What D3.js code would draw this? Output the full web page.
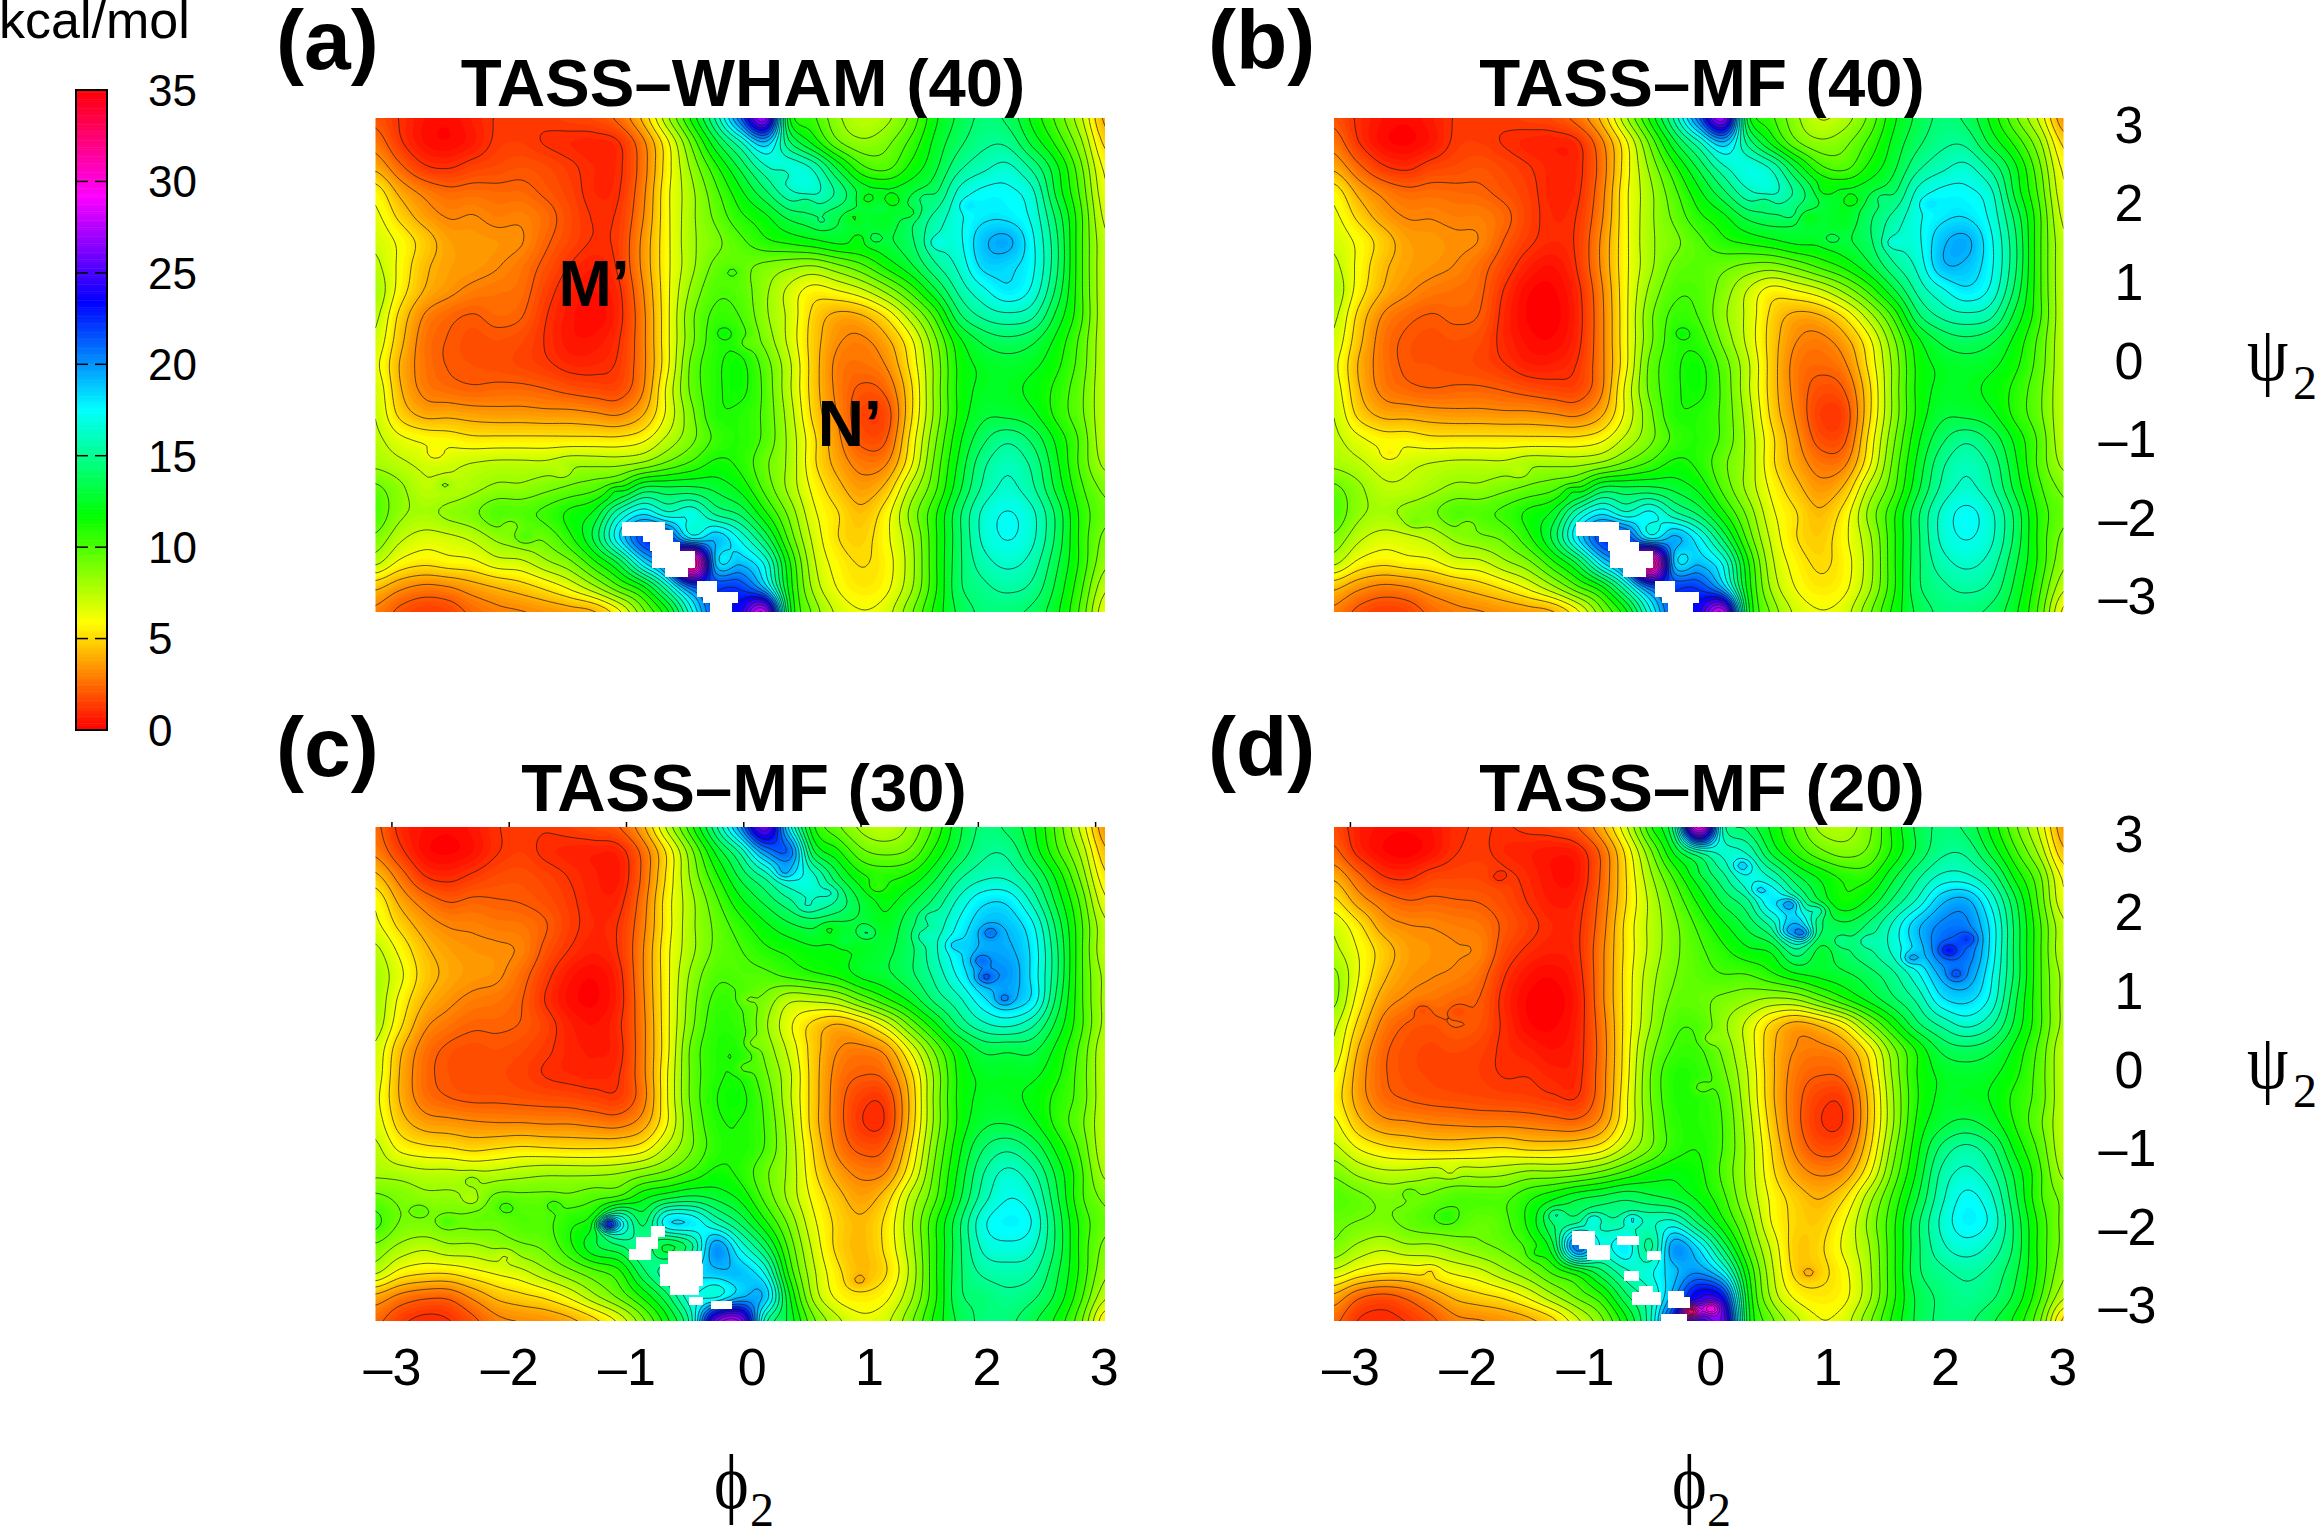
<!DOCTYPE html>
<html>
<head>
<meta charset="utf-8">
<script src="https://cdn.jsdelivr.net/npm/d3@7"></script>
<style>
  html, body { margin: 0; padding: 0; background: #fff; }
  svg { display: block; }
  text { font-family: "Liberation Sans", Arial, sans-serif; fill: #000; }
</style>
</head>
<body>
<div id="chart-area"></div>
<script>
// free energy, rows run from psi=3.14 down to psi=-3.14, 31 columns left to right
const energyA = [
  [2,1.2,.5,.3,.8,1.3,1.3,1.4,1.6,1.8,2.5,4.5,8,11.5,15.5,21,27,12.5,10.5,8.5,7.5,8,9.5,12,13.5,14.5,14,12,10,7.5,4],
  [2.8,1.4,.5,.3,.7,1.4,1.5,1.2,1,.9,1.2,3,6,9.5,13,16,19,14.5,12,9.5,8.5,9,10.5,12.5,14,15,15,13,11,8.5,5],
  [4,2.5,1.4,1.2,1.6,1.8,2,1.8,1.4,1,1.1,2.8,5.8,8.5,11,13.5,16,17,16,13,10.5,10,11.5,13,15,16,16.5,15,12.5,9.5,6],
  [5.8,4,3,2.5,2.6,2.5,2.5,2.1,1.6,1,1.2,3,6,8,10,12,14,16,16.5,15,13,12.5,13,14,16.5,17.5,17.5,16.5,13,10,6.5],
  [6.5,5,3.8,3.2,3.3,3,3.1,2.6,1.8,1.2,1.4,3.2,6,8,9.5,11,12,13.5,14,13.5,13,12.5,14,15.5,17,18,18,17,14,10.5,7],
  [7,6,4.8,3.8,3.6,3.5,3.3,2.4,1.7,1.2,1.5,3.5,6,8,9,10,11,11.5,12,12.5,12.5,13,14,16,17,19,19.5,17.5,14.5,10.5,7.5],
  [7.5,6,4.5,3.8,3.6,3.3,2.8,2,1.2,.8,1.4,3.5,6,8,9.5,9.5,9,8.5,8.2,9,10,11.5,13,15,16.5,18.5,18.5,17.5,14.5,10.5,7.5],
  [8,5.8,4.2,3.5,3,2.8,2.6,1.6,.8,.5,1.1,3.2,6,8.5,10,9.8,8.5,7,5.8,6.2,7,8.5,10.5,13,15.5,17,18,17,14,10.5,7.5],
  [7.5,5,3.2,2.5,2.2,2.5,2.3,1.3,.6,.3,1,3,6,9,10.5,10.2,8.5,7,5,4,4.2,5.5,7.8,10.5,14,15.5,16,15.5,13,10.5,7.5],
  [7,4.6,2.8,2.2,1.9,2,1.8,1.2,.6,.6,1.2,3,6,9,10.8,10.8,9,7,4.8,3.4,3.1,4,6,9,12,13.5,14,13.5,12,10,7.5],
  [6.5,4.2,2.8,2.2,2,1.9,1.7,1.4,1,1,1.4,3,6,9.5,11,11.5,9.8,7.5,4.8,3,2.7,3.3,5.5,8.5,11.5,12.5,12.8,12.5,11.5,9.8,7.5],
  [7,4.4,3,2.6,2.4,2.5,2.5,2.3,2,1.8,1.8,3.2,6.5,9.5,11,11.5,10,7.5,4.8,3,2.1,2.5,5,8.5,11.5,12.5,12.5,12,11,9.5,7.5],
  [7.2,5,4,4,3.8,3.7,3.7,3.6,3.6,3.4,3.2,4.2,6.5,9,11,11,10,7.8,5,3.2,1.7,1.8,5,8.5,11.5,13,13,12.5,11,9.5,7.5],
  [7.5,6.5,6,5.8,5.5,5.5,5.5,5.5,5.5,5.5,5.5,6,7.5,9,10.5,11,10,8,5.5,3.5,2,2.2,5.5,9,12,14,15,14,12,10,7.5],
  [8,7.5,7,7,7.3,7.5,7.5,7.5,8,8,8,8.5,9.5,10.5,11.5,11,9.5,8,5.5,3.9,2.9,3.2,6,9.5,12.5,15,16,15,12.5,10,8],
  [9.5,8.5,7.5,7.5,8,8.5,8.5,9,9.5,10,11,13.5,13.5,13.5,13,12,10,8,6,4.6,3.7,4.6,7.5,10,13,15.5,16.5,15.5,13,10.5,9],
  [10,8.5,8,8.5,9,10,10,10.5,11.5,12.5,16,18,16.5,17,15,14,11.5,9,6.5,5.3,4.5,5.8,8.5,11,14,16.5,17.3,16.5,14,11,9.5],
  [9,7.5,6.8,7,7.5,8.5,9,9.5,11,13.5,18,22,22,18,19,17,14,10,7,5.3,4.9,6,8,11,14,16.5,17.3,16.5,14,11,9],
  [7.5,6,5.5,5.8,6,6.8,7,8,9,11,13.5,18,22,33,19,19,17,11.5,7.5,5.8,5.2,5.8,7.8,11,14,15.8,16.5,15.8,13.5,11,8.5],
  [4.5,3.5,3,3.2,3.8,4.3,4.8,5.5,6.5,8,10,12,16,21,22,22,19,12,8,6.2,5.5,6,8,11,14,15,15.5,15,13,10.5,7.5],
  [3,2,1.5,1.7,2.5,3,3.2,3.5,3.8,4.2,6,9,12,17,22,24,28,13,9,7,6.3,6.8,9,11.5,13.5,14.5,14.5,14,12.5,10,6.5]
]

const energyB = [
  [2,1.1,.5,.3,.7,1.3,1.3,1.4,1.6,1.8,2.6,4.5,8,11.5,15.5,21,27,13,10.5,8.5,7.2,7.8,9.5,12,13.5,14.5,14,12,9.5,7,3.5],
  [2.8,1.3,.4,.2,.6,1.4,1.5,1.2,.9,.8,1.1,3,6,9.5,13,16,19,15,12,9.5,8.5,9,10.5,12.5,14,15,15,13,11,8.5,5],
  [4,2.5,1.4,1.1,1.6,1.8,2,1.7,1.3,.9,1,2.7,5.8,8.5,11,13.5,16,17,16,13,10.5,10,11.5,13,15,16,16.5,15,12.5,9.5,6],
  [5.8,4,3,2.5,2.6,2.5,2.4,2,1.5,.9,1.1,2.9,6,8,10,12,14,16,16.5,15,13,12.5,13,14,16.5,17.5,17.5,16.5,13,10,6.5],
  [6.5,5,3.8,3.2,3.2,3,3,2.5,1.6,1,1.3,3.1,6,8,9.5,11,12,13.5,14,13.5,13,12.5,14,15.5,17,18,18.2,17,14,10.5,7],
  [7,6,4.8,3.8,3.6,3.4,3.2,2.2,1.4,1,1.4,3.4,6,8,9,10,11,11.5,12,12.5,12.5,13,14,16,17,19,19.5,17.5,14.5,10.5,7.5],
  [7.5,6,4.5,3.8,3.5,3.2,2.6,1.7,.8,.5,1.3,3.4,6,8,9.5,9.8,9.5,9,8.8,9.5,10.5,11.5,13,15,16.5,19,19,17.5,14.5,10.5,7.5],
  [8,5.8,4.2,3.4,2.9,2.7,2.4,1.2,.3,.2,1,3.1,6,8.5,10,10,8.8,7.2,5.8,6.2,7,8.5,10.5,13,15.5,17,18,17,14,10.5,7.5],
  [7.5,5,3.2,2.5,2.2,2.4,2.2,1,.2,.1,.9,3,6,9,10.5,10.2,8.5,7,5,4,4.2,5.5,7.8,10.5,14,15.5,16,15.5,13,10.5,7.5],
  [7,4.6,2.8,2.1,1.9,2,1.8,1,.4,.3,1,3,6,9,10.8,10.8,9,7,4.8,3.3,3,3.9,6,9,12,13.5,14,13.5,12,10,7.5],
  [6.5,4.2,2.8,2.1,2,1.9,1.7,1.3,.8,.8,1.3,3,6,9.5,11,11.5,9.8,7.5,4.8,2.9,2.5,3.1,5.5,8.5,11.5,12.5,12.8,12.5,11.5,9.8,7.5],
  [6.8,4.4,3,2.5,2.3,2.4,2.4,2.2,1.9,1.7,1.7,3.1,6.5,9.5,11,11.5,10,7.5,4.8,2.9,1.9,2.3,5,8.5,11.5,12.5,12.5,12,11,9.5,7.5],
  [7.2,5,4,3.9,3.7,3.6,3.6,3.5,3.5,3.3,3.1,4.1,6.5,9,11,11,10,7.8,5,3.1,1.5,1.7,5,8.5,11.5,13,13,12.5,11,9.5,7.5],
  [7.5,6.5,5.8,5.8,5.5,5.5,5.5,5.5,5.5,5.5,5.5,6,7.5,9,10.5,11,10,8,5.5,3.5,1.9,2.1,5.5,9,12,14,15,14,12,10,7.5],
  [8,7.5,6.8,7,7.3,7.5,7.5,7.5,8,8,8,8.5,9.5,10.5,11.5,11,9.5,8,5.5,3.9,2.8,3.1,6,9.5,12.5,15,16,15,12.5,10,8],
  [9.5,8.5,7.5,7.5,8,8.5,8.5,9,9.5,10,11,13.5,13.5,13.5,13,12,10,8,6,4.6,3.6,4.5,7.5,10,13,15.5,16.5,15.5,13,10.5,9],
  [10,8.5,8,8.5,9,10,10,10.5,11.5,12.5,16,18,16.5,17.5,15.5,14,11.5,9,6.5,5.3,4.4,5.7,8.5,11,14,16.5,17.5,16.5,14,11,9.5],
  [9,7.5,6.8,7,7.5,8.5,9,9.5,11,13.5,18,22,22,18,19.5,17.5,14,10,7,5.3,4.8,6,8,11,14,16.5,17.3,16.5,14,11,9],
  [7.5,6,5.5,5.8,6,6.8,7,8,9,11,13.5,18,22,33,19,19,17,11.5,7.5,5.8,5.1,5.8,7.8,11,14,15.8,16.5,15.8,13.5,11,8.5],
  [4.5,3.5,3,3.2,3.8,4.3,4.8,5.5,6.5,8,10,12,16,21,22,22,19,12,8,6.2,5.5,6,8,11,14,15,15.5,15,13,10.5,7.5],
  [3,2,1.5,1.7,2.5,3,3.2,3.5,3.8,4.2,6,9,12,17,22,24,28,13,9,7,6.3,6.8,9,11.5,13.5,14.5,14.5,14,12.5,10,6]
]

const energyC = [
  [2.5,1,.5,.3,.6,1.2,1.4,1.3,1.5,1.8,2.2,4,7.5,11,15,20,26,18,11.5,9.5,8,7.5,8.5,10.5,13,14.5,14,12.5,10,7,3.5],
  [3,1.5,.4,.2,.5,1.2,1.5,1.1,.9,.8,.9,2.6,5.5,9,12.5,15.5,20,21,13.5,11.5,9.5,9,9.5,11.5,13.5,15,15,13,10.5,8,4.5],
  [4.5,2.8,1.3,1,1.4,1.8,1.9,1.6,1.2,.8,.7,2.5,5.5,8.5,11,13.5,15.5,17.5,16.5,13.5,11.5,11,11.5,13,15,16,16,14.5,12,9,5.5],
  [6,4,2.8,2.2,2.4,2.3,2.2,1.9,1.4,.9,1,2.8,5.8,8,10,12,13.5,15,16,15,13,12,13,14.5,16.5,18,18,16,13,10,6.5],
  [6.5,5,3.8,3.2,3.1,2.9,2.8,2.3,1.5,1,1.3,3,5.8,8,9.5,10.8,12,13,13.5,13,13,12.5,14,15.5,17.5,19,19,17.5,14,10.5,7.5],
  [7.5,6,4.5,3.8,3.5,3.4,3.1,2,1.2,.8,1.3,3.2,6,8,9.5,10.2,11,11.5,12,12,12.5,13,14,16,18,19.5,19.5,18,14.5,10.5,7.5],
  [8,6.5,4.8,4,3.6,3.4,2.6,1.5,.6,.3,1,3.2,6,8.5,10,10,10,10.5,11,11.5,12.5,13,14,15.5,17.5,19.5,20,18,14.5,10.5,8],
  [8,6,4.3,3.5,3,2.8,2.3,1.2,.4,.2,.9,3.1,6,8.8,10.5,10.3,9,7.5,7.5,8,9.5,11,12.5,14.5,16,18,19,18,14,10.5,8],
  [7.8,5.5,3.5,2.8,2.4,2.4,2.2,1.6,.8,.5,1.1,3,6,9,10.8,10.5,8.5,6.5,5,4.2,5,6.8,9.5,12,14.5,16,16.5,15.5,13,10.5,8],
  [7,4.5,2.8,2.1,1.9,2,1.8,1.4,.9,.7,1,3,6,9.5,11,11,9,7,4.8,3.3,3,3.7,6.5,9.5,12,13.5,13.5,13.5,12,10,7.5],
  [6.8,4.2,2.6,2,1.8,1.8,1.6,1.2,1,.9,1.2,3,6.2,9.5,11,11.2,9.5,7.5,4.8,2.9,2.3,2.6,5,8.5,11.5,12.5,12.5,12.5,11.5,9.8,7.5],
  [6.5,4.2,2.8,2.3,2.1,2.1,2,1.9,1.8,1.6,1.5,2.9,6.2,9.5,11.2,11.5,10,7.5,4.8,2.7,1.5,1.6,4.5,8.5,11.5,12.5,12.5,12,11,9.8,7.5],
  [6.8,4.8,3.8,3.6,3.4,3.3,3.3,3.2,3.2,3,2.9,3.8,6.2,9.2,11,11.2,10.2,7.8,4.8,2.7,1.3,1.4,4.6,8.5,11.5,13,13.2,12.5,11,9.5,7.5],
  [7.5,6,5.5,5.3,5,5.2,5.4,5.3,5.2,5.2,5.3,5.8,7.5,9.2,10.8,11.2,10.2,8,5.2,3,2,2.3,5.2,9,12,14.2,15,14,12,10,7.5],
  [8,7.8,7.5,7.5,7.3,7.5,7.8,8,8,8,8.2,8.8,9.5,10.5,11.5,11,9.5,8,5.5,3.8,3,3.3,6,9.5,12.5,15.2,16.5,15.5,13,10.5,8],
  [9.5,9,8.5,8.5,8.5,9.5,9.5,9.5,9.5,10,10.5,12,13,13.5,13,12,10,8,6,4.6,3.8,4.8,7.5,10,13,15.8,17.2,16.5,13.5,10.5,9],
  [10.5,9.2,9,9.2,9.5,9.5,10,10,11,12,17,14,18,18,16,14,11.5,9,6.5,5,4.4,5.5,8,11,14,17,17.8,17.2,14,11,9.5],
  [9,8,7.5,8,8,8.5,9,9.5,11,13,14,15,13,15,20,17,14,10,7,5,4.4,5.5,7.8,11,14,16.5,17,16.5,14,11,9],
  [7.5,6,5.5,5.5,6,6.5,7,8,9,10,11,14,16,18,19,19,17,11,7.5,5.5,4.5,5.2,7.5,11,14,15.5,15.8,15.5,13.5,11,8.5],
  [4,3,2.5,2.5,3.5,4.5,5,5.5,6.5,8,9.5,11.5,14,17,17,19,19,12.5,8,6,5.5,6,8,11,14,14.5,15,14.5,13,10.5,7.5],
  [2.5,1.5,1,1.2,2,3,3.3,3.5,4,5,6.5,9,12,16,26,27,16,13,9.5,7.5,6.5,7,9,11.5,13.5,14.5,14.5,13.5,12,9.5,5.5]
]

const energyD = [
  [1.8,.8,.4,.3,.5,1.1,1.3,1.2,1.4,1.6,2.2,4,7,11,15,30,16,14,12,10,8,7.8,9,11.5,13.5,14.5,14,12,9.5,7,3.5],
  [2.5,1,.3,.1,.5,1.2,1.4,1,.8,.6,.8,2.5,5.5,9,12.5,15.5,16.5,16,13,11,9.5,8.8,9.5,11.5,13.5,15,15,13,10.5,8,4.5],
  [4,2.5,1.3,1.1,1.6,1.7,1.7,1.5,1,.5,.6,2.4,5.2,8,10.5,13,15,17,16,13.5,12,11,11,13,15,16.5,16.5,15,12,9.5,6],
  [5.5,3.8,2.8,2.3,2.4,2.3,2.2,1.8,1.2,.7,.9,2.6,5.2,7.5,9.5,11.5,13.5,15,18,16,13,11.5,12.5,14.5,16.5,19,19.5,17,13.5,10,6.5],
  [7,5.5,3.8,3.3,3.2,3,2.8,2.1,1.5,1,1.1,2.8,5.5,7.5,9,10.5,12,13.5,15.5,19,14.5,13.5,14.5,16.5,19,20.5,20.5,18,14,10.5,7.5],
  [7.5,6.2,4.8,3.8,3.5,3.3,3.1,1.8,1.1,.8,1.1,3,5.5,7.5,9,10,11,12,12.5,15,13,14,15,16.5,18.5,21,21,18,14,10.5,7.5],
  [8.5,6.3,4.5,3.6,3.3,3.1,2.6,1.3,.5,.3,.9,3,5.6,7.8,9.2,9.8,10.2,10.2,11,12,12.5,13,13.8,15,17,19.5,20,17.5,14,10.5,8],
  [8.5,5.8,3.8,3.1,2.8,2.5,2.2,1,.2,.1,.7,3,5.6,8,9.5,9.5,9,8.5,8,8.2,9.5,11,12.5,14,15.5,18,18.5,17,13.5,10.5,8],
  [7.5,5,3,2.2,2,2.3,2,1.1,.3,.2,.8,2.8,5.6,8.2,10,10,8.5,7,5,3.9,4.5,6,8.8,11.5,14,15.5,16.5,15.5,13,10.5,8],
  [7,4.2,2.5,1.9,1.7,1.8,1.6,1.1,.8,.5,.9,2.7,5.7,8.8,10.4,10.4,9,7,4.5,3.2,3,3.6,5.8,9,11.5,13.5,14,13.5,12,10,7.5],
  [6.2,3.8,2.4,1.9,1.7,1.6,1.5,1.2,1.2,.9,1,2.8,5.8,9.2,11,10.8,9.5,7.3,4.5,2.8,2.3,2.6,5,8.5,11.3,12.5,12.8,12.5,11.5,9.8,7.5],
  [5.8,3.8,2.6,2.2,2,1.9,1.8,1.7,1.6,1.4,1.3,2.9,6,9.2,11,11,10,7.5,4.5,2.6,1.5,1.6,4.5,8.2,11.2,12.5,12.5,12.2,11,9.8,7.5],
  [6.5,4.6,3.6,3.4,3.2,3.1,3,3,2.9,2.7,2.6,3.6,6.2,9,10.8,11,10.2,7.8,4.8,2.6,1.3,1.4,4.5,8.2,11.5,13,13.5,12.8,11.2,9.5,7.5],
  [7.5,6.2,5.5,5.2,5,5,5.2,5.3,5,5,5.2,5.8,7.5,9.2,10.8,11.2,10.2,8,5.2,3,1.9,2.3,5,8.8,12,14.5,15.5,14.5,12,10,7.5],
  [9,8,7.5,7.5,7.8,8,7.8,8,8.5,8.5,8.8,9.5,10.5,11.5,12,11.5,10,8,5.5,3.8,3.1,3.6,6,9.5,12.5,15.5,16.5,15.5,13,10.5,8],
  [10,9.5,9,9,9.5,10,10,10,11,12,13,13.5,14,13.5,13,12,10.5,8.2,6,4.8,4.2,5.2,7.8,10.5,13.2,16,17.5,16.5,13.5,10.5,9],
  [9.5,9.2,9,9.5,10,10,9.5,10,11.5,14,15,15.5,15.5,16,16.5,14,11.5,9,6.2,5,4.8,6.2,8.5,11,14,16.5,17.8,17,14,11,9],
  [9,8,7.5,8,8,8.5,9,9.5,10.5,13,21,17,18,15,20,18,14,10,7,4.8,5.1,6.5,8.2,11,14,16,16.8,16,14,11,9],
  [7,6,5.5,5.5,6,6.5,7,8,9,10.5,12,14,16,17,19,20,17.5,11.5,7.5,5,5,6,8,11,14,15,15.5,15,13.5,11,8.5],
  [4,2.5,2,2.5,3.5,4.5,5,5.5,6.5,8,9.5,11,14,16,20,24,23,12.5,8,6,5.5,6,8,11,13.5,14.5,15,14.5,13,10.5,7.5],
  [2.5,1.2,1,1.3,2,3,3.2,3.5,4,5,7,9,12,16,23,24,26,13,9.5,7.5,6.3,6.8,9,11.5,13.5,14.5,14.5,13.5,12,9.5,5]
]

// small closed contours seen in the picture: [phi, psi, kcal/mol above or below the surroundings]
const spotsA = [[.34,2.42,-1],[.53,2.06,-1],[1.05,2.11,-1],[1.27,2.09,-1.2],[.93,1.87,-1],[.67,1.81,.8],[1.42,1.93,-1],[1.17,2,.8],[1.54,2.13,.8],[1.91,2.03,.8],[.98,1.61,-.8],[1.11,1.61,.8],[1.65,1.55,.9],[-1.54,-1.37,-.8],[-1.1,-1.6,1],[-1.99,-2.03,-.8],[-2.63,-1.13,-.8],[-.17,.41,.8],[.03,.27,-.8],[-2.55,-1.52,1],[-1.87,-2.2,1],[-.09,1.18,.8]]
const spotsB = [[.53,2.06,-1],[1.05,2.23,-1],[1.28,2.09,-1],[.91,1.87,-1],[.75,1.91,.8],[1.53,2.13,.8],[1.1,1.6,.8],[1.93,2.05,.8],[1.62,1.55,.9],[-1.55,-1.37,-.8],[-1.12,-1.6,1],[-2.45,-2,.8],[-2,-2.03,-.8],[-.17,.41,.8],[-2.66,-1.13,-.8]]
const spotsC = [[.34,2.56,1.5],[.74,2.31,1],[1.05,1.8,1.5],[1.13,2.38,-1],[.53,2.13,.8],[.72,1.85,-.8],[.86,1.69,.8],[1.58,2,.8],[1.54,1.75,1],[1.79,1.64,1],[2.1,1.8,1.5],[2.02,1.44,1.5],[2.06,1.23,2],[2.22,.95,1.5],[.03,.95,-.8],[.07,.39,-1],[0,.08,-1],[-2.32,-1.34,.8],[-2.03,-1.7,.8],[-2.76,-1.73,.8],[-2.53,-1.88,1],[-2.32,-1.6,-.8],[-1.62,-1.66,.8],[-1.16,-1.91,8],[-2.03,-2.3,-.8],[.98,-2.63,-.8]]
const spotsD = [[.34,2.65,2],[.48,2.34,1.5],[.75,2.16,3],[.86,1.78,3],[.72,1.81,1.5],[.99,2.08,2],[1.18,1.69,1],[1.4,1.69,1],[1.78,1.47,2],[2.1,1.57,2],[2.27,1.72,1.5],[2.16,1.26,1.5],[-1.74,2.5,-.5],[-2.08,.79,-.6],[-2.39,.82,-.6],[.07,.45,-1],[-.01,-.17,-1],[-2.18,-1.82,.9],[-2.5,-1.5,.8],[-2.15,-1.26,-.8],[-.93,-1.85,2],[-.6,-1.85,2],[-1.42,-2.29,.8],[-1.25,-1.79,1.5],[-2.31,-2.5,-.8],[.91,-2.53,-.8],[-.1,-3.02,10],[.07,-2.98,5]]

// unsampled bins [phi0, phi1, psi0, psi1], drawn white
const holesA = [[-1.04,-.67,-1.99,-2.18],[-.86,-.6,-2.1,-2.25],[-.8,-.54,-2.25,-2.37],[-.785,-.416,-2.37,-2.58],[-.67,-.473,-2.58,-2.69],[-.4,-.23,-2.75,-2.95],[-.345,-.047,-2.88,-3.03],[-.29,-.1,-3.03,-3.15]]
const holesB = [[-1.08,-.71,-1.99,-2.18],[-.88,-.62,-2.1,-2.25],[-.8,-.54,-2.25,-2.37],[-.785,-.42,-2.37,-2.58],[-.68,-.48,-2.58,-2.69],[-.4,-.23,-2.75,-2.95],[-.345,-.03,-2.88,-3.03],[-.29,-.08,-3.03,-3.15]]
const holesC = [[-.79,-.67,-1.93,-2.07],[-.92,-.73,-2.07,-2.22],[-.98,-.79,-2.22,-2.36],[-.65,-.36,-2.25,-2.41],[-.71,-.35,-2.41,-2.69],[-.63,-.38,-2.69,-2.81],[-.47,-.35,-2.83,-2.94],[-.28,-.1,-2.88,-2.99]]
const holesD = [[-1.108,-.915,-1.99,-2.17],[-1.05,-.915,-2.17,-2.23],[-.98,-.79,-2.18,-2.36],[-.73,-.54,-2.06,-2.17],[-.475,-.35,-2.25,-2.36],[-.665,-.54,-2.5,-2.63],[-.54,-.42,-2.7,-2.77],[-.6,-.35,-2.77,-2.94],[-.29,-.16,-2.76,-2.83],[-.29,-.105,-2.83,-2.97],[-.35,-.13,-3.05,-3.14]]

const titles = ["TASS–WHAM (40)", "TASS–MF (40)", "TASS–MF (30)", "TASS–MF (20)"]
const panelLetters = ["(a)", "(b)", "(c)", "(d)"]
const axisTicks = [-3, -2, -1, 0, 1, 2, 3]
const colorTicks = [0, 5, 10, 15, 20, 25, 30, 35]
const contourLevels = d3.range(1.25, 36)

const PLOT_W = 729.5
const PLOT_H = 494

const panels = [
  {energy: energyA, spots: spotsA, holes: holesA, left: 375.5, top: 118, titleX: 743, titleY: 106, letterX: 276, letterY: 69},
  {energy: energyB, spots: spotsB, holes: holesB, left: 1334, top: 118, titleX: 1702, titleY: 106, letterX: 1208, letterY: 69},
  {energy: energyC, spots: spotsC, holes: holesC, left: 375.5, top: 827, titleX: 744, titleY: 811, letterX: 276, letterY: 776},
  {energy: energyD, spots: spotsD, holes: holesD, left: 1334, top: 827, titleX: 1702, titleY: 811, letterX: 1208, letterY: 776}
]

const svg = d3.select("#chart-area").append("svg")
  .attr("width", 2316)
  .attr("height", 1527)

// hue runs once round the wheel from 0 to 35 kcal/mol
const energyColor = v => d3.hsl(v / 35 * 360, 1, 0.5).formatRgb()

const x = d3.scaleLinear().domain([-3.14, 3.08]).range([0, PLOT_W])
const y = d3.scaleLinear().domain([-3.14, 3.14]).range([PLOT_H, 0])

// catmull-rom upsampling, only so the contours come out round instead of cut at the coarse grid
const FINE = 7
function cubic(a, b, c, d, t) {
  return b + 0.5 * t * (c - a + t * (2 * a - 5 * b + 4 * c - d + t * (3 * (b - c) + d - a)))
}
function upsample(rows, spots) {
  const ny = rows.length, nx = rows[0].length
  const w = (nx - 1) * FINE + 1, h = (ny - 1) * FINE + 1
  const at = (r, c) => rows[Math.max(0, Math.min(ny - 1, r))][Math.max(0, Math.min(nx - 1, c))]
  const out = new Array(w * h)
  const phiOf = d3.scaleLinear().domain([0, w - 1]).range(x.domain())
  const psiOf = d3.scaleLinear().domain([0, h - 1]).range([y.domain()[1], y.domain()[0]])
  for (let j = 0; j < h; j++) {
    const r = Math.floor(j / FINE), tr = j / FINE - r
    for (let i = 0; i < w; i++) {
      const c = Math.floor(i / FINE), tc = i / FINE - c
      const col = k => cubic(at(r + k, c - 1), at(r + k, c), at(r + k, c + 1), at(r + k, c + 2), tc)
      let v = cubic(col(-1), col(0), col(1), col(2), tr)
      spots.forEach(s => {
        const dx = (phiOf(i) - s[0]) / 0.055, dy = (psiOf(j) - s[1]) / 0.06
        const d2 = dx * dx + dy * dy
        if (d2 < 9) v += s[2] * Math.exp(-d2 / 2)
      })
      out[j * w + i] = v
    }
  }
  return {values: out, w, h}
}

panels.forEach((p, idx) => {
  // titles go first, the map sits on top of them
  svg.append("text")
    .attr("x", p.titleX)
    .attr("y", p.titleY)
    .attr("text-anchor", "middle")
    .attr("font-size", 67)
    .attr("font-weight", "bold")
    .text(titles[idx])

  svg.append("text")
    .attr("x", p.letterX)
    .attr("y", p.letterY)
    .attr("font-size", 84)
    .attr("font-weight", "bold")
    .text(panelLetters[idx])

  const g = svg.append("g").attr("transform", `translate(${p.left}, ${p.top})`)

  const fine = upsample(p.energy, p.spots)
  const gridX = d3.scaleLinear().domain([0.5, fine.w - 0.5]).range(x.domain())
  const gridY = d3.scaleLinear().domain([0.5, fine.h - 0.5]).range([y.domain()[1], y.domain()[0]])
  const path = d3.geoPath(d3.geoTransform({
    point(px, py) { this.stream.point(x(gridX(px)), y(gridY(py))) }
  }))
  const contours = d3.contours().size([fine.w, fine.h])

  g.append("clipPath").attr("id", `clip-${idx}`)
    .append("rect").attr("width", PLOT_W).attr("height", PLOT_H)

  const map = g.append("g").attr("clip-path", `url(#clip-${idx})`)
  const fills = map.append("g").style("filter", "blur(0.7px)")

  fills.append("rect")
    .attr("x", -3).attr("y", -3)
    .attr("width", PLOT_W + 6).attr("height", PLOT_H + 6)
    .attr("fill", energyColor(0))

  fills.selectAll("path")
    .data(contours.thresholds(d3.range(0.25, 35, 0.25))(fine.values))
    .enter().append("path")
    .attr("d", path)
    .attr("fill", d => energyColor(d.value))

  map.append("g").selectAll("path")
    .data(contours.thresholds(contourLevels)(fine.values))
    .enter().append("path")
    .attr("d", path)
    .attr("fill", "none")
    .attr("stroke", "#1a1a1a")
    .attr("stroke-width", 1)
    .attr("stroke-opacity", 0.7)

  map.append("g").selectAll("rect")
    .data(p.holes)
    .enter().append("rect")
    .attr("x", d => x(d[0]))
    .attr("y", d => y(d[2]))
    .attr("width", d => x(d[1]) - x(d[0]))
    .attr("height", d => y(d[3]) - y(d[2]))
    .attr("fill", "#fff")
    .attr("shape-rendering", "crispEdges")

  // phi labels under the lower row
  if (idx >= 2) {
    const xAxisCall = d3.axisBottom(x)
      .tickValues(axisTicks)
      .tickSize(0)
      .tickFormat(d => d < 0 ? "–" + Math.abs(d) : d)
    g.append("g")
      .attr("transform", `translate(0, ${PLOT_H})`)
      .call(xAxisCall)
      .call(a => a.select(".domain").remove())
      .selectAll("text")
        .attr("font-family", "Liberation Sans")
        .attr("font-size", 52)
        .attr("fill", "#000")
        .attr("dy", 0)
        .attr("y", 64)
        .attr("x", d => d < 0 ? 0 : 8)

    // stray tick stubs on top of the lower panels
    g.append("g").selectAll("line")
      .data(idx === 2 ? axisTicks : [-3])
      .enter().append("line")
      .attr("x1", d => x(d)).attr("x2", d => x(d))
      .attr("y1", -5).attr("y2", 0)
      .attr("stroke", "#000").attr("stroke-width", 1.5)
  }

  // psi labels right of the right column
  if (idx % 2 === 1) {
    const yAxisCall = d3.axisRight(y)
      .tickValues(axisTicks)
      .tickSize(0)
      .tickFormat(d => d < 0 ? "–" + Math.abs(d) : d)
    g.append("g")
      .attr("transform", `translate(${PLOT_W}, 0)`)
      .call(yAxisCall)
      .call(a => a.select(".domain").remove())
      .selectAll("text")
        .attr("font-family", "Liberation Sans")
        .attr("font-size", 52)
        .attr("fill", "#000")
        .attr("text-anchor", "start")
        .attr("dy", "0.25em")
        .attr("x", d => d < 0 ? 35 : 51)
  }
})

// M' and N' basin labels on panel a
const basinLabels = [{text: "M’", phi: -1.58, psi: 0.75}, {text: "N’", phi: 0.63, psi: -1.03}]
svg.append("g")
  .attr("transform", `translate(${panels[0].left}, ${panels[0].top})`)
  .selectAll("text")
  .data(basinLabels)
  .enter().append("text")
  .attr("x", d => x(d.phi))
  .attr("y", d => y(d.psi))
  .attr("font-size", 64)
  .attr("font-weight", "bold")
  .text(d => d.text)

// axis titles, the symbols are stretched a bit taller than the serif face
const axisTitles = [
  {sym: "ϕ", x: 714, y: 1508, subX: 750, subY: 1526},
  {sym: "ϕ", x: 1672, y: 1508, subX: 1707, subY: 1526},
  {sym: "ψ", x: 2247, y: 380, subX: 2293, subY: 399},
  {sym: "ψ", x: 2247, y: 1088, subX: 2293, subY: 1107}
]
axisTitles.forEach(t => {
  svg.append("text")
    .attr("transform", `translate(${t.x}, ${t.y}) scale(1, 1.2)`)
    .attr("font-size", 66)
    .style("font-family", "Liberation Serif, DejaVu Serif, serif")
    .text(t.sym)
  svg.append("text")
    .attr("x", t.subX).attr("y", t.subY)
    .attr("font-size", 48)
    .style("font-family", "Liberation Serif, serif")
    .text("2")
})

// colour bar
const BAR_X = 76, BAR_W = 31
const barY = d3.scaleLinear().domain([0, 35]).range([730, 90])

svg.append("g").selectAll("rect")
  .data(d3.range(0, 35, 0.125))
  .enter().append("rect")
  .attr("x", BAR_X)
  .attr("y", d => barY(d + 0.125))
  .attr("width", BAR_W)
  .attr("height", d => barY(d) - barY(d + 0.125) + 0.5)
  .attr("fill", d => energyColor(d))

svg.append("rect")
  .attr("x", BAR_X).attr("y", barY(35))
  .attr("width", BAR_W).attr("height", barY(0) - barY(35))
  .attr("fill", "none")
  .attr("stroke", "#000")
  .attr("stroke-width", 2)

const barAxisCall = d3.axisRight(barY).tickValues(colorTicks).tickSize(0)
svg.append("g")
  .attr("transform", `translate(${BAR_X + BAR_W}, 0)`)
  .call(barAxisCall)
  .call(a => a.select(".domain").remove())
  .selectAll("text")
    .attr("font-family", "Liberation Sans")
    .attr("font-size", 44)
    .attr("fill", "#000")
    .attr("text-anchor", "start")
    .attr("dy", "0.35em")
    .attr("x", 41)

const barDashes = svg.append("g").selectAll("g")
  .data(colorTicks.slice(1, -1))
  .enter().append("g")
barDashes.append("line")
  .attr("x1", BAR_X).attr("x2", BAR_X + 12)
  .attr("y1", d => barY(d)).attr("y2", d => barY(d))
  .attr("stroke", "#000").attr("stroke-width", 1.5)
barDashes.append("line")
  .attr("x1", BAR_X + BAR_W - 12).attr("x2", BAR_X + BAR_W)
  .attr("y1", d => barY(d)).attr("y2", d => barY(d))
  .attr("stroke", "#000").attr("stroke-width", 1.5)

svg.append("text")
  .attr("x", -1).attr("y", 38)
  .attr("font-size", 52)
  .text("kcal/mol")
</script>
</body>
</html>
